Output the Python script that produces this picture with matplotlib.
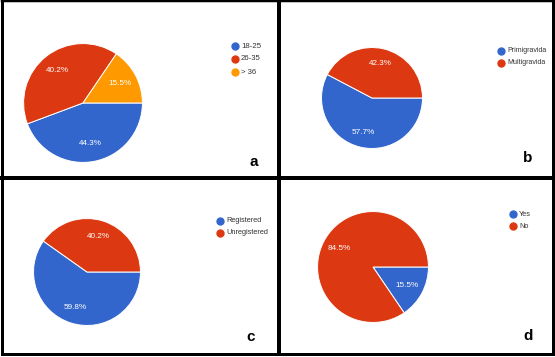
import matplotlib.pyplot as plt
from matplotlib.lines import Line2D

plt.rcParams['font.family'] = ['Liberation Sans', 'DejaVu Sans']

W, H = 555, 357

blue = '#3366cc'
red = '#dc3912'
orange = '#ff9900'

# panel data
age_labels = ['18-25', '26-35', '> 36']
age_values = [44.3, 40.2, 15.5]
grav_labels = ['Primigravida', 'Multigravida']
grav_values = [57.7, 42.3]
reg_labels = ['Registered', 'Unregistered']
reg_values = [59.8, 40.2]
yn_labels = ['Yes', 'No']
yn_values = [15.5, 84.5]

panels = [
    # values, labels, colors, pie centre/radius (px), legend x/y/step/fontsize, letter pos
    (age_values, age_labels, [blue, red, orange], (83, 103, 60), (235, 46, 13, 5.6), 'a', (254, 162)),
    (grav_values, grav_labels, [blue, red], (372, 98, 51), (501, 51, 11.5, 5.0), 'b', (528, 158)),
    (reg_values, reg_labels, [blue, red], (87, 272, 54), (220, 221, 12, 5.3), 'c', (251, 337)),
    (yn_values, yn_labels, [blue, red], (373, 267, 56), (513, 214, 12, 5.3), 'd', (528, 336)),
]

fig = plt.figure(figsize=(W / 100, H / 100), dpi=100)
fig.patch.set_facecolor('white')

for values, labels, colors, (cx, cy, r), (lx, ly, step, fs), letter, (tx, ty) in panels:
    ax = fig.add_axes([(cx - r) / W, 1 - (cy + r) / H, 2 * r / W, 2 * r / H])
    ax.pie(values, colors=colors, startangle=0, counterclock=False,
           autopct='%.1f%%', pctdistance=0.7, radius=1,
           wedgeprops=dict(edgecolor='white', linewidth=0.7),
           textprops=dict(color='white', fontsize=5.9))
    ax.set_xlim(-1.01, 1.01)
    ax.set_ylim(-1.01, 1.01)
    ax.axis('off')

    for i, (lab, col) in enumerate(zip(labels, colors)):
        y = ly + i * step
        fig.add_artist(Line2D([lx / W], [1 - y / H], marker='o', ms=5, color=col,
                              linestyle='none', transform=fig.transFigure))
        fig.text((lx + 6) / W, 1 - y / H, lab, fontsize=fs, color='#333333',
                 va='center', ha='left')

    fig.text(tx / W, 1 - ty / H, letter, fontsize=11, fontweight='bold',
             ha='center', va='center', color='black')

# panel frames
def fline(x0, y0, x1, y1, w):
    fig.add_artist(Line2D([x0 / W, x1 / W], [1 - y0 / H, 1 - y1 / H], color='black',
                          linewidth=w * 0.72, transform=fig.transFigure,
                          solid_capstyle='projecting'))

fline(1.5, 1, 1.5, 353.5, 3)
fline(1.5, 1, 552.5, 1, 2.5)
fline(552.5, 1, 552.5, 353.5, 3)
fline(1.5, 353.5, 552.5, 353.5, 3)
fline(279, 1, 279, 353.5, 4)
fline(1.5, 178, 552.5, 178, 4)

fig.savefig('out.png', dpi=100, facecolor='white')
